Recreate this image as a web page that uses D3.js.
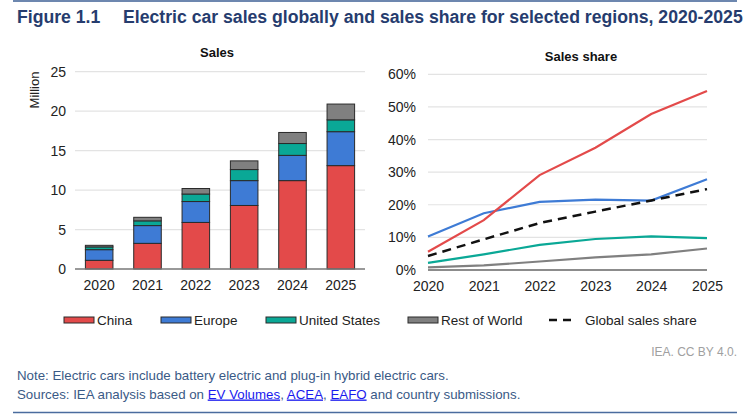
<!DOCTYPE html>
<html><head><meta charset="utf-8">
<script src="https://cdn.jsdelivr.net/npm/d3@7"></script>
<style>
body{margin:0;background:#fff;}
svg{display:block;font-family:"Liberation Sans",Arial,sans-serif;}
</style></head>
<body>
<svg id="chart" width="748" height="415"></svg>
<script>
// ---- data ----
const years = ["2020","2021","2022","2023","2024","2025"];
const china  = [1.1, 3.25, 5.9, 8.05, 11.2, 13.1];
const europe = [1.35, 2.25, 2.65, 3.15, 3.2, 4.3];
const us     = [0.35, 0.6, 0.95, 1.4, 1.5, 1.5];
const row    = [0.2, 0.45, 0.7, 1.1, 1.4, 2.0];
const chinaShare  = [5.6, 15.3, 29.1, 37.5, 47.8, 54.9];
const europeShare = [10.3, 17.4, 20.9, 21.6, 21.3, 27.8];
const usShare     = [2.2, 4.8, 7.7, 9.5, 10.3, 9.8];
const rowShare    = [0.8, 1.4, 2.6, 3.9, 4.8, 6.6];
const globalShare = [4.3, 9.4, 14.4, 17.9, 21.3, 24.8];
const salesTicks = [0, 5, 10, 15, 20, 25];
const shareTicks = [0, 10, 20, 30, 40, 50, 60];
const seriesNames = ["China", "Europe", "United States", "Rest of World"];
const colors = ["#e34a4a", "#3e7bd5", "#0aa896", "#808080"];

const svg = d3.select("#chart");

// rules
svg.append("line").attr("x1",13).attr("x2",737).attr("y1",1).attr("y2",1)
  .attr("stroke","#3d5f94").attr("stroke-width",1.5);
svg.append("line").attr("x1",13).attr("x2",737).attr("y1",412.5).attr("y2",412.5)
  .attr("stroke","#4a6c9e").attr("stroke-width",1.5);

// title
const title = svg.append("text").attr("y",22.5).attr("font-weight","bold")
  .attr("font-size",17.65).attr("fill","#263c6e");
title.append("tspan").attr("x",17).text("Figure 1.1");
title.append("tspan").attr("x",123).text("Electric car sales globally and sales share for selected regions, 2020-2025");

// ---- left chart: stacked bars ----
const x = d3.scaleBand().domain(years).range([75, 365]).paddingInner(0.43).paddingOuter(0.215);
const y = d3.scaleLinear().domain([0, 25]).range([269, 71.7]);

svg.append("text").attr("x",217).attr("y",57).attr("text-anchor","middle")
  .attr("font-weight","bold").attr("font-size",13).attr("fill","#111").text("Sales");

const gl = svg.append("g");
gl.selectAll("line.grid").data(salesTicks.filter(d=>d>0)).join("line")
  .attr("x1",75).attr("x2",365).attr("y1",d=>y(d)).attr("y2",d=>y(d))
  .attr("stroke","#e3e3e3").attr("stroke-width",1.2);

const yAxisL = d3.axisLeft(y).tickValues(salesTicks).tickSize(0).tickPadding(9);
svg.append("g").attr("transform","translate(75,0)").call(yAxisL)
  .call(g=>g.select(".domain").remove())
  .call(g=>g.selectAll("text").attr("font-size",14).attr("fill","#222")
    .attr("font-family","Liberation Sans, Arial, sans-serif"));

svg.append("text").attr("transform","translate(39,90) rotate(-90)")
  .attr("text-anchor","middle").attr("font-size",13).attr("fill","#222").text("Million");

const table = years.map((yr,i)=>({year:yr, China:china[i], Europe:europe[i], "United States":us[i], "Rest of World":row[i]}));
const stack = d3.stack().keys(seriesNames)(table);
stack.forEach((layer,li)=>{
  svg.append("g").selectAll("rect").data(layer).join("rect")
    .attr("x",d=>x(d.data.year)).attr("width",x.bandwidth())
    .attr("y",d=>y(d[1])).attr("height",d=>y(d[0])-y(d[1]))
    .attr("fill",colors[li]).attr("stroke","#2a2a2a").attr("stroke-width",1);
});

svg.append("line").attr("x1",75).attr("x2",365).attr("y1",y(0)).attr("y2",y(0))
  .attr("stroke","#777").attr("stroke-width",1.5);

const xAxisL = d3.axisBottom(x).tickSize(0).tickPadding(11);
svg.append("g").attr("transform",`translate(0,${y(0)})`).call(xAxisL)
  .call(g=>g.select(".domain").remove())
  .call(g=>g.selectAll("text").attr("font-size",14).attr("fill","#222")
    .attr("font-family","Liberation Sans, Arial, sans-serif"));

// ---- right chart: lines ----
const x2 = d3.scalePoint().domain(years).range([428, 707]);
const y2 = d3.scaleLinear().domain([0, 60]).range([270, 74.3]);

svg.append("text").attr("x",581).attr("y",61).attr("text-anchor","middle")
  .attr("font-weight","bold").attr("font-size",13).attr("fill","#111").text("Sales share");

svg.append("g").selectAll("line").data(shareTicks.filter(d=>d>0)).join("line")
  .attr("x1",428).attr("x2",707).attr("y1",d=>y2(d)).attr("y2",d=>y2(d))
  .attr("stroke","#e3e3e3").attr("stroke-width",1.2);

const yAxisR = d3.axisLeft(y2).tickValues(shareTicks).tickSize(0).tickPadding(12).tickFormat(d=>d+"%");
svg.append("g").attr("transform","translate(428,0)").call(yAxisR)
  .call(g=>g.select(".domain").remove())
  .call(g=>g.selectAll("text").attr("font-size",14).attr("fill","#222")
    .attr("font-family","Liberation Sans, Arial, sans-serif"));

svg.append("line").attr("x1",428).attr("x2",707).attr("y1",y2(0)).attr("y2",y2(0))
  .attr("stroke","#666").attr("stroke-width",1.5);

const line = d3.line().x((d,i)=>x2(years[i])).y(d=>y2(d));
const shareSeries = [rowShare, usShare, europeShare, chinaShare];
const shareColors = [colors[3], colors[2], colors[1], colors[0]];
shareSeries.forEach((s,i)=>{
  svg.append("path").datum(s).attr("d",line).attr("fill","none")
    .attr("stroke",shareColors[i]).attr("stroke-width",2.2);
});
svg.append("path").datum(globalShare).attr("d",line).attr("fill","none")
  .attr("stroke","#111").attr("stroke-width",2.5).attr("stroke-dasharray","9,6");

const xAxisR = d3.axisBottom(x2).tickSize(0).tickPadding(11);
svg.append("g").attr("transform",`translate(0,${y2(0)})`).call(xAxisR)
  .call(g=>g.select(".domain").remove())
  .call(g=>g.selectAll("text").attr("font-size",14).attr("fill","#222")
    .attr("font-family","Liberation Sans, Arial, sans-serif"));

// ---- legend ----
const legendX = [64, 161, 266, 408];
const lg = svg.append("g");
seriesNames.forEach((n,i)=>{
  lg.append("rect").attr("x",legendX[i]).attr("y",317).attr("width",30).attr("height",6)
    .attr("fill",colors[i]).attr("stroke","#2a2a2a").attr("stroke-width",1);
  lg.append("text").attr("x",legendX[i]+33).attr("y",325).attr("font-size",13.5)
    .attr("fill","#222").text(n);
});
lg.append("line").attr("x1",549).attr("x2",576).attr("y1",320).attr("y2",320)
  .attr("stroke","#111").attr("stroke-width",2.5).attr("stroke-dasharray","8,6");
lg.append("text").attr("x",585).attr("y",325).attr("font-size",13.5).attr("fill","#222")
  .text("Global sales share");

// ---- footer ----
svg.append("text").attr("x",737).attr("y",356).attr("text-anchor","end")
  .attr("font-size",12).attr("fill","#a0a0a0").text("IEA. CC BY 4.0.");
svg.append("text").attr("x",17).attr("y",380).attr("font-size",13.3).attr("fill","#3a5a86")
  .text("Note: Electric cars include battery electric and plug-in hybrid electric cars.");
const src = svg.append("text").attr("x",17).attr("y",398.5).attr("font-size",13.3).attr("fill","#3a5a86");
src.append("tspan").text("Sources: IEA analysis based on ");
src.append("tspan").attr("fill","#1a1aee").attr("text-decoration","underline").text("EV Volumes");
src.append("tspan").text(", ");
src.append("tspan").attr("fill","#1a1aee").attr("text-decoration","underline").text("ACEA");
src.append("tspan").text(", ");
src.append("tspan").attr("fill","#1a1aee").attr("text-decoration","underline").text("EAFO");
src.append("tspan").text(" and country submissions.");
</script>
</body></html>
